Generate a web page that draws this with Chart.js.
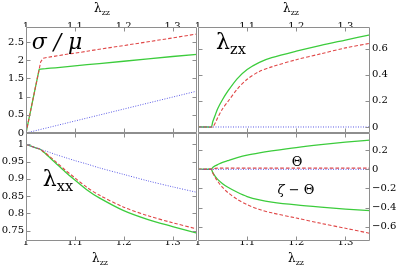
<!DOCTYPE html>
<html>
<head>
<meta charset="utf-8">
<script src="https://cdn.jsdelivr.net/npm/chart.js@4.4.0/dist/chart.umd.min.js"></script>
<style>
html, body { margin: 0; padding: 0; background: #fff; }
#wrap { position: relative; width: 399px; height: 268px; overflow: hidden; font-family: "DejaVu Serif", serif; color: #000; }
canvas { position: absolute; left: 0; top: 0; }
.t { position: absolute; white-space: nowrap; line-height: 1; transform: translate(-50%, -50%); }
.t .s { font-size: 66%; position: relative; top: 0.35em; }
</style>
</head>
<body>
<div id="wrap">
  <canvas id="c1" width="399" height="268"></canvas>
  <canvas id="c2" width="399" height="268"></canvas>
  <canvas id="c3" width="399" height="268"></canvas>
  <canvas id="c4" width="399" height="268"></canvas>

  <div class="t" style="left:102px;top:8px;font-size:12px">λ<span class="s">zz</span></div>
  <div class="t" style="left:291px;top:8px;font-size:12px">λ<span class="s">zz</span></div>
  <div class="t" style="left:100px;top:258px;font-size:12px">λ<span class="s">zz</span></div>
  <div class="t" style="left:296px;top:258px;font-size:12px">λ<span class="s">zz</span></div>

  <div class="t" style="left:57px;top:42px;font-size:22px;font-style:italic">σ / μ</div>
  <div class="t" style="left:231px;top:42px;font-size:22px">λ<span class="s">zx</span></div>
  <div class="t" style="left:58px;top:179px;font-size:22px">λ<span class="s">xx</span></div>
  <div class="t" style="left:297px;top:161px;font-size:13px">Θ</div>
  <div class="t" style="left:296px;top:189px;font-size:13px"><i>ζ</i> − Θ</div>
</div>

<script>
// stretch λzz, shared by every panel
const lam = [1, 1.01, 1.02, 1.027, 1.03, 1.035, 1.04, 1.05, 1.06, 1.08, 1.1, 1.125, 1.15, 1.2, 1.25, 1.3, 1.35];

// sigma / mu
const stressGreen = [0, 0.65, 1.30, 1.75, 1.755, 1.76, 1.765, 1.78, 1.79, 1.815, 1.84, 1.875, 1.905, 1.97, 2.035, 2.10, 2.16];
const stressRed   = [0, 0.65, 1.30, 1.75, 1.95, 2.05, 2.065, 2.09, 2.11, 2.155, 2.19, 2.245, 2.30, 2.40, 2.505, 2.61, 2.72];
const stressBlue  = [0, 0.033, 0.066, 0.089, 0.099, 0.115, 0.131, 0.164, 0.197, 0.263, 0.329, 0.411, 0.493, 0.657, 0.822, 0.986, 1.15];

// lambda_zx
const shearGreen = [0, 0, 0, 0, 0.04, 0.09, 0.14, 0.21, 0.27, 0.37, 0.44, 0.495, 0.53, 0.58, 0.625, 0.665, 0.705];
const shearRed   = [0, 0, 0, 0, 0, 0.03, 0.07, 0.14, 0.19, 0.29, 0.365, 0.425, 0.46, 0.515, 0.56, 0.605, 0.64];
const shearBlue  = [0, 0, 0, 0, 0, 0, 0, 0, 0, 0, 0, 0, 0, 0, 0, 0, 0];

// lambda_xx
const xxGreen = [1, 0.995, 0.99, 0.987, 0.985, 0.979, 0.973, 0.96, 0.947, 0.921, 0.897, 0.868, 0.845, 0.808, 0.782, 0.762, 0.743];
const xxRed   = [1, 0.995, 0.99, 0.987, 0.985, 0.98, 0.975, 0.963, 0.951, 0.926, 0.903, 0.875, 0.853, 0.818, 0.793, 0.773, 0.755];
const xxBlue  = [1, 0.995, 0.99, 0.987, 0.985, 0.983, 0.981, 0.976, 0.971, 0.962, 0.953, 0.943, 0.932, 0.913, 0.894, 0.877, 0.861];

// Theta and zeta - Theta
const angGreenUp   = [0, 0, 0, 0, 0.02, 0.037, 0.05, 0.073, 0.09, 0.122, 0.148, 0.172, 0.192, 0.228, 0.258, 0.284, 0.306];
const angGreenDown = [0, 0, 0, 0, -0.035, -0.075, -0.105, -0.15, -0.185, -0.24, -0.285, -0.32, -0.343, -0.373, -0.396, -0.416, -0.433];
const angRedUp     = [0, 0, 0, 0, 0.006, 0.01, 0.012, 0.012, 0.012, 0.012, 0.012, 0.012, 0.012, 0.012, 0.012, 0.012, 0.012];
const angRedDown   = [0, 0, 0, 0, -0.035, -0.085, -0.125, -0.19, -0.24, -0.315, -0.37, -0.42, -0.455, -0.51, -0.565, -0.617, -0.67];
const angBlue      = [0, 0, 0, 0, 0, 0, 0, 0, 0, 0, 0, 0, 0, 0, 0, 0, 0];

const GREEN = '#3ccc3c', RED = '#e04848', BLUE = '#5a5ae6', AXIS = '#8e8e8e';
const W = 399, H = 268;

const pts = ys => lam.map((x, i) => ({ x: x, y: ys[i] }));
const green = (ys, t) => ({ data: pts(ys), borderColor: GREEN, borderWidth: 1.3, tension: t });
const red   = (ys, t) => ({ data: pts(ys), borderColor: RED, borderWidth: 1.1, borderDash: [3.5, 2], tension: t });
const blue  = (ys, t) => ({ data: pts(ys), borderColor: BLUE, borderWidth: 1, borderDash: [1, 1.5], tension: t });

const fmt = v => {
  const s = String(Math.round(v * 100) / 100);
  return s.replace('-', '\u2212');
};

// frame + inward ticks on all four sides
const frame = {
  id: 'frame',
  afterDraw(chart) {
    const { ctx, chartArea: a } = chart;
    const xs = chart.scales.x, ys = chart.scales.y;
    const L = Math.round(a.left) + 0.5, R = Math.round(a.right) - 0.5;
    const T = Math.round(a.top) + 0.5, B = Math.round(a.bottom) - 0.5;
    ctx.save();
    ctx.strokeStyle = AXIS;
    ctx.lineWidth = 1;
    ctx.beginPath();
    xs.ticks.forEach(t => {
      const p = Math.round(xs.getPixelForValue(t.value)) + 0.5;
      ctx.moveTo(p, T); ctx.lineTo(p, T + 4);
      ctx.moveTo(p, B); ctx.lineTo(p, B - 4);
    });
    ys.ticks.forEach(t => {
      const p = Math.round(ys.getPixelForValue(t.value)) + 0.5;
      ctx.moveTo(L, p); ctx.lineTo(L + 4, p);
      ctx.moveTo(R, p); ctx.lineTo(R - 4, p);
    });
    ctx.rect(L, T, R - L, B - T);
    ctx.stroke();
    ctx.restore();
  }
};

function panel(id, area, xPos, yPos, yMin, yMax, yStep, datasets) {
  const pad = {
    left: yPos === 'left' ? 0 : area.l,
    right: yPos === 'right' ? 0 : W - area.r,
    top: xPos === 'top' ? 0 : area.t,
    bottom: xPos === 'bottom' ? 0 : H - area.b
  };
  const xSize = xPos === 'top' ? area.t : H - area.b;
  const ySize = yPos === 'left' ? area.l : W - area.r;
  const font = { family: 'DejaVu Serif', size: 10 };
  return new Chart(document.getElementById(id), {
    type: 'line',
    data: { datasets: datasets },
    options: {
      responsive: false,
      animation: false,
      devicePixelRatio: 1,
      layout: { padding: pad },
      elements: { point: { radius: 0 } },
      plugins: { legend: { display: false }, tooltip: { enabled: false } },
      scales: {
        x: {
          type: 'linear', position: xPos, min: 1, max: 1.35,
          grid: { display: false, drawTicks: false },
          border: { display: false },
          ticks: { stepSize: 0.1, includeBounds: false, autoSkip: false, maxRotation: 0,
                   padding: xPos === 'top' ? -5 : -5, color: '#000', font: font, callback: fmt },
          afterFit: s => { s.height = xSize; }
        },
        y: {
          type: 'linear', position: yPos, min: yMin, max: yMax,
          grid: { display: false, drawTicks: false },
          border: { display: false },
          ticks: { stepSize: yStep, includeBounds: false, autoSkip: false,
                   padding: 2, color: '#000', font: font, callback: fmt },
          afterFit: s => { s.width = ySize; }
        }
      }
    },
    plugins: [frame]
  });
}

// first dataset is painted on top, so blue, red, green
panel('c1', { l: 26, t: 27, r: 197, b: 133 }, 'top', 'left', 0, 2.91, 0.5,
  [blue(stressBlue, 0), red(stressRed, 0), green(stressGreen, 0)]);
panel('c2', { l: 198, t: 27, r: 370, b: 133 }, 'top', 'right', -0.046, 0.765, 0.2,
  [blue(shearBlue, 0), red(shearRed, 0.3), green(shearGreen, 0.3)]);
panel('c3', { l: 26, t: 133, r: 197, b: 241 }, 'bottom', 'left', 0.72, 1.033, 0.05,
  [blue(xxBlue, 0.3), red(xxRed, 0.3), green(xxGreen, 0.3)]);
panel('c4', { l: 198, t: 133, r: 370, b: 241 }, 'bottom', 'right', -0.75, 0.38, 0.2,
  [blue(angBlue, 0), red(angRedUp, 0.3), red(angRedDown, 0.3), green(angGreenUp, 0.3), green(angGreenDown, 0.3)]);
</script>
</body>
</html>
